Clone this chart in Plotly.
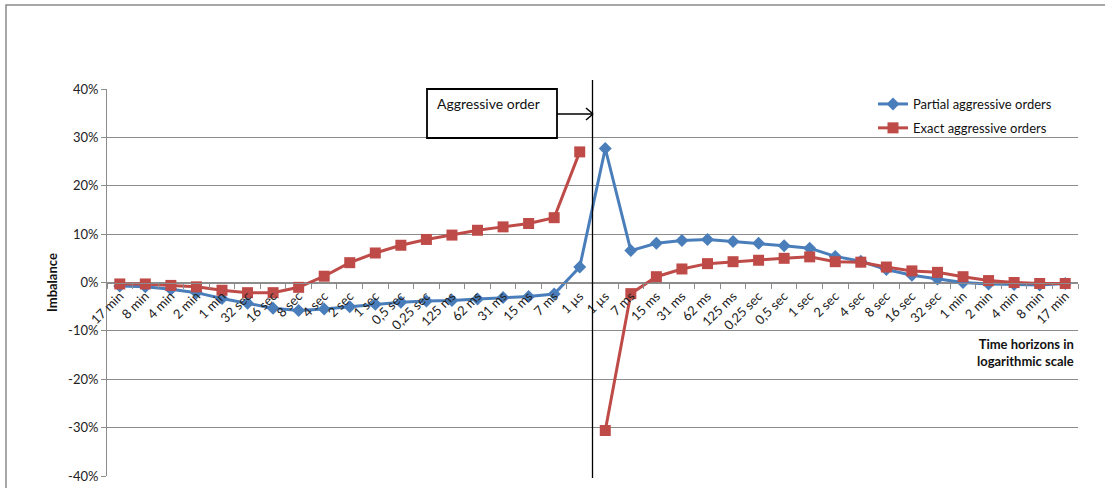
import plotly.graph_objects as go

left_labels = ["17 min", "8 min", "4 min", "2 min", "1 min", "32 sec", "16 sec", "8 sec", "4 sec",
               "2 sec", "1 sec", "0,5 sec", "0,25 sec", "125 ms", "62 ms", "31 ms", "15 ms", "7 ms", "1 µs"]
right_labels = ["1 µs", "7 ms", "15 ms", "31 ms", "62 ms", "125 ms", "0,25 sec", "0,5 sec", "1 sec",
                "2 sec", "4 sec", "8 sec", "16 sec", "32 sec", "1 min", "2 min", "4 min", "8 min", "17 min"]
tick_labels = left_labels + right_labels

partial = [-0.7, -0.9, -1.4, -2.1, -3.3, -4.3, -5.3, -5.8, -5.5, -5.0, -4.5, -4.1, -3.8, -3.7, -3.4, -3.1, -2.9, -2.4, 3.2,
           27.7, 6.6, 8.1, 8.7, 8.9, 8.5, 8.1, 7.6, 7.1, 5.4, 4.4, 2.7, 1.5, 0.7, 0.0, -0.3, -0.4, -0.5, -0.2]
exact = [-0.3, -0.3, -0.6, -0.9, -1.6, -2.1, -2.1, -1.0, 1.3, 4.1, 6.1, 7.7, 8.9, 9.8, 10.8, 11.5, 12.2, 13.4, 27.0,
         -30.6, -2.3, 1.2, 2.8, 3.9, 4.3, 4.6, 5.0, 5.3, 4.3, 4.2, 3.2, 2.4, 2.1, 1.2, 0.4, 0.0, -0.2, -0.2]

x = list(range(len(tick_labels)))
yvals = [-0.4, -0.3, -0.2, -0.1, 0, 0.1, 0.2, 0.3, 0.4]
ytext = ["-40%", "-30%", "-20%", "-10%", "0%", "10%", "20%", "30%", "40%"]

BLUE = "#4A7EBB"
RED = "#BE4B48"
GRID = "#8C8C8C"
FONT = "Lato, 'Open Sans', sans-serif"

nL = len(left_labels)
# the exact-orders series is not joined across the event
x_exact = x[:nL] + [None] + x[nL:]
y_exact = [v / 100 for v in exact[:nL]] + [None] + [v / 100 for v in exact[nL:]]

fig = go.Figure()
fig.add_trace(go.Scatter(x=x, y=[v / 100 for v in partial], mode="lines+markers",
                         name="Partial aggressive orders", legendgroup="a",
                         line=dict(color=BLUE, width=3),
                         marker=dict(symbol="diamond", size=10, color=BLUE)))
fig.add_trace(go.Scatter(x=x_exact, y=y_exact, mode="lines+markers", connectgaps=False,
                         name="Exact aggressive orders", legendgroup="b",
                         line=dict(color=RED, width=3),
                         marker=dict(symbol="square", size=11, color=RED)))

W, H = 1105, 488
L, R, T, B = 107, 27, 89, 12
pw, ph = W - L - R, H - T - B


def px(p):
    return (p - L) / pw


def py(p):
    return (H - B - p) / ph


shapes = [
    dict(type="rect", xref="paper", yref="paper", x0=px(6), x1=px(1110), y0=py(5), y1=py(495),
         line=dict(color="#8A8A8A", width=1.5), fillcolor="rgba(0,0,0,0)", layer="below"),
    dict(type="line", xref="x", yref="paper", x0=18.5, x1=18.5, y0=py(478), y1=py(80),
         line=dict(color="black", width=1.3)),
    dict(type="rect", xref="paper", yref="paper", x0=px(427), x1=px(557), y0=py(138), y1=py(89),
         line=dict(color="black", width=1.8), fillcolor="white"),
    dict(type="line", xref="paper", yref="paper", x0=px(557), x1=px(593), y0=py(114), y1=py(114),
         line=dict(color="black", width=1.5)),
    dict(type="line", xref="paper", yref="paper", x0=px(586), x1=px(593), y0=py(108), y1=py(114),
         line=dict(color="black", width=1.5)),
    dict(type="line", xref="paper", yref="paper", x0=px(586), x1=px(593), y0=py(120), y1=py(114),
         line=dict(color="black", width=1.5)),
]

annotations = [
    dict(text="Aggressive order", xref="paper", yref="paper", x=px(435), y=py(104),
         xanchor="left", yanchor="middle", showarrow=False,
         font=dict(family=FONT, size=14, color="#111")),
    dict(text="<b>Time horizons in<br>logarithmic scale</b>", xref="paper", yref="paper",
         x=px(1076), y=py(334), xanchor="right", yanchor="top", align="right", showarrow=False,
         font=dict(family=FONT, size=13, color="#111")),
    dict(text="<b>Imbalance</b>", xref="paper", yref="paper", x=px(52), y=py(283),
         textangle=-90, xanchor="center", yanchor="middle", showarrow=False,
         font=dict(family=FONT, size=13, color="#111")),
]

fig.update_layout(
    width=W, height=H,
    margin=dict(l=L, r=R, t=T, b=B),
    paper_bgcolor="white", plot_bgcolor="white",
    font=dict(family=FONT, size=13, color="#222"),
    shapes=shapes, annotations=annotations,
    legend=dict(x=px(873), y=py(89), xanchor="left", yanchor="top",
                bgcolor="rgba(255,255,255,0)", font=dict(family=FONT, size=13, color="#111"),
                tracegroupgap=4, itemwidth=30),
    xaxis=dict(range=[-0.5, len(tick_labels) - 0.5], tickmode="array", tickvals=x, ticktext=tick_labels,
               tickangle=-45, ticks="", showgrid=False, zeroline=False, automargin=False,
               showline=True, linecolor=GRID, linewidth=1,
               anchor="free", position=0.5,
               minor=dict(tick0=-0.5, dtick=1, ticks="outside", ticklen=5, tickcolor=GRID, showgrid=False),
               tickfont=dict(family=FONT, size=13, color="#222"), fixedrange=True),
    yaxis=dict(range=[-0.4, 0.4], tickmode="array", tickvals=yvals, ticktext=ytext, automargin=False,
               showgrid=True, gridcolor=GRID, gridwidth=1, zeroline=False,
               showline=True, linecolor=GRID, linewidth=1,
               ticks="outside", ticklen=5, tickcolor=GRID,
               tickfont=dict(family=FONT, size=13, color="#222"), fixedrange=True),
)

fig.write_html("out.html")
